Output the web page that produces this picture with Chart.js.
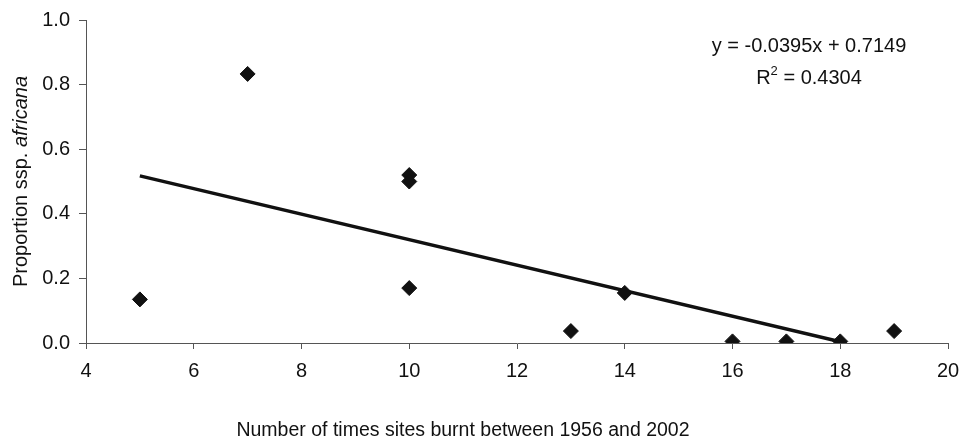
<!DOCTYPE html>
<html>
<head>
<meta charset="utf-8">
<script src="https://cdn.jsdelivr.net/npm/chart.js@4.4.0/dist/chart.umd.min.js"></script>
<style>
  html, body { margin: 0; padding: 0; background: #fff; }
  #wrap { width: 962px; height: 442px; position: relative; }
</style>
</head>
<body>
<div id="wrap"><canvas id="burnChart"></canvas></div>
<script>
// Data
var timesBurnt = [5, 7, 10, 10, 10, 13, 14, 16, 17, 18, 19];
var propAfricana = [0.135, 0.833, 0.52, 0.50, 0.17, 0.037, 0.155, 0.005, 0.005, 0.005, 0.037];

// Regression line as printed on the chart, drawn between the first and last x
var trendSlope = -0.0395;
var trendIntercept = 0.7149;
var trendX = [5, 18];

var xTicks = [4, 6, 8, 10, 12, 14, 16, 18, 20];
var yTicks = [0.0, 0.2, 0.4, 0.6, 0.8, 1.0];

var xTitle = "Number of times sites burnt between 1956 and 2002";
var eqLine1 = "y = -0.0395x + 0.7149";
var eqLine2a = "R";
var eqLine2b = "2";
var eqLine2c = " = 0.4304";

var FONT = "'Liberation Sans', Arial, sans-serif";
var INK = "#111";
var AXIS = "#555";

var scatterPts = timesBurnt.map(function (x, i) { return { x: x, y: propAfricana[i] }; });
var trendPts = trendX.map(function (x) { return { x: x, y: trendSlope * x + trendIntercept }; });

// Draws the axis titles (y has an italic part) and the regression equation
var textPlugin = {
    id: 'textPlugin',
    afterDraw: function (chart) {
        var ctx = chart.ctx;
        var area = chart.chartArea;
        ctx.save();
        ctx.fillStyle = INK;
        ctx.textBaseline = 'middle';

        // y axis title, rotated
        var normalFont = "20px " + FONT;
        var italicFont = "italic 20px " + FONT;
        var partA = "Proportion ssp. ";
        var partB = "africana";
        ctx.font = normalFont;
        var wA = ctx.measureText(partA).width;
        ctx.font = italicFont;
        var wB = ctx.measureText(partB).width;
        ctx.translate(21, (area.top + area.bottom) / 2);
        ctx.rotate(-Math.PI / 2);
        var start = -(wA + wB) / 2;
        ctx.textAlign = 'left';
        ctx.font = normalFont;
        ctx.fillText(partA, start, 0);
        ctx.font = italicFont;
        ctx.fillText(partB, start + wA, 0);
        ctx.setTransform(1, 0, 0, 1, 0, 0);

        // x axis title (sits left of the plot centre in the original)
        ctx.font = "19.5px " + FONT;
        ctx.textAlign = 'center';
        ctx.fillText(xTitle, 463, 431);

        // equation
        var cx = 809;
        ctx.font = normalFont;
        ctx.textAlign = 'center';
        ctx.fillText(eqLine1, cx, 46);
        var w1 = ctx.measureText(eqLine2a).width;
        ctx.font = "13px " + FONT;
        var w2 = ctx.measureText(eqLine2b).width;
        ctx.font = normalFont;
        var w3 = ctx.measureText(eqLine2c).width;
        var x0 = cx - (w1 + w2 + w3) / 2;
        ctx.textAlign = 'left';
        ctx.fillText(eqLine2a, x0, 78);
        ctx.font = "13px " + FONT;
        ctx.fillText(eqLine2b, x0 + w1, 71);
        ctx.font = normalFont;
        ctx.fillText(eqLine2c, x0 + w1 + w2, 78);
        ctx.restore();
    }
};

var ctx = document.getElementById("burnChart").getContext("2d");
var chart = new Chart(ctx, {
    type: "scatter",
    data: {
        datasets: [{
            label: "Sites",
            data: scatterPts,
            pointStyle: 'rectRot',
            pointRadius: 7.5,
            pointHoverRadius: 7.5,
            backgroundColor: INK,
            borderColor: INK,
            borderWidth: 1,
            order: 1
        }, {
            label: "Linear trend",
            data: trendPts,
            showLine: true,
            pointRadius: 0,
            borderColor: INK,
            borderWidth: 3.5,
            fill: false,
            order: 2
        }]
    },
    options: {
        responsive: true,
        maintainAspectRatio: false,
        animation: false,
        layout: {
            padding: { top: 20, right: 14, bottom: 0, left: 0 }
        },
        plugins: {
            legend: { display: false },
            tooltip: { enabled: false }
        },
        scales: {
            x: {
                type: 'linear',
                min: 4,
                max: 20,
                afterBuildTicks: function (scale) {
                    scale.ticks = xTicks.map(function (v) { return { value: v }; });
                },
                afterFit: function (scale) {
                    scale.height = 99;
                    scale.paddingLeft = 0;
                    scale.paddingRight = 0;
                },
                grid: {
                    display: true,
                    drawOnChartArea: false,
                    drawTicks: true,
                    tickLength: 6,
                    color: AXIS
                },
                border: { display: true, color: AXIS, width: 1 },
                ticks: {
                    color: INK,
                    padding: 10,
                    maxRotation: 0,
                    font: { size: 20, family: FONT }
                }
            },
            y: {
                type: 'linear',
                min: 0,
                max: 1,
                afterBuildTicks: function (scale) {
                    scale.ticks = yTicks.map(function (v) { return { value: v }; });
                },
                afterFit: function (scale) {
                    scale.width = 86;
                    scale.paddingTop = 0;
                    scale.paddingBottom = 0;
                },
                grid: {
                    display: true,
                    drawOnChartArea: false,
                    drawTicks: true,
                    tickLength: 7,
                    color: AXIS
                },
                border: { display: true, color: AXIS, width: 1 },
                ticks: {
                    color: INK,
                    padding: 9,
                    font: { size: 20, family: FONT },
                    callback: function (v) { return Number(v).toFixed(1); }
                }
            }
        }
    },
    plugins: [textPlugin]
});
</script>
</body>
</html>
